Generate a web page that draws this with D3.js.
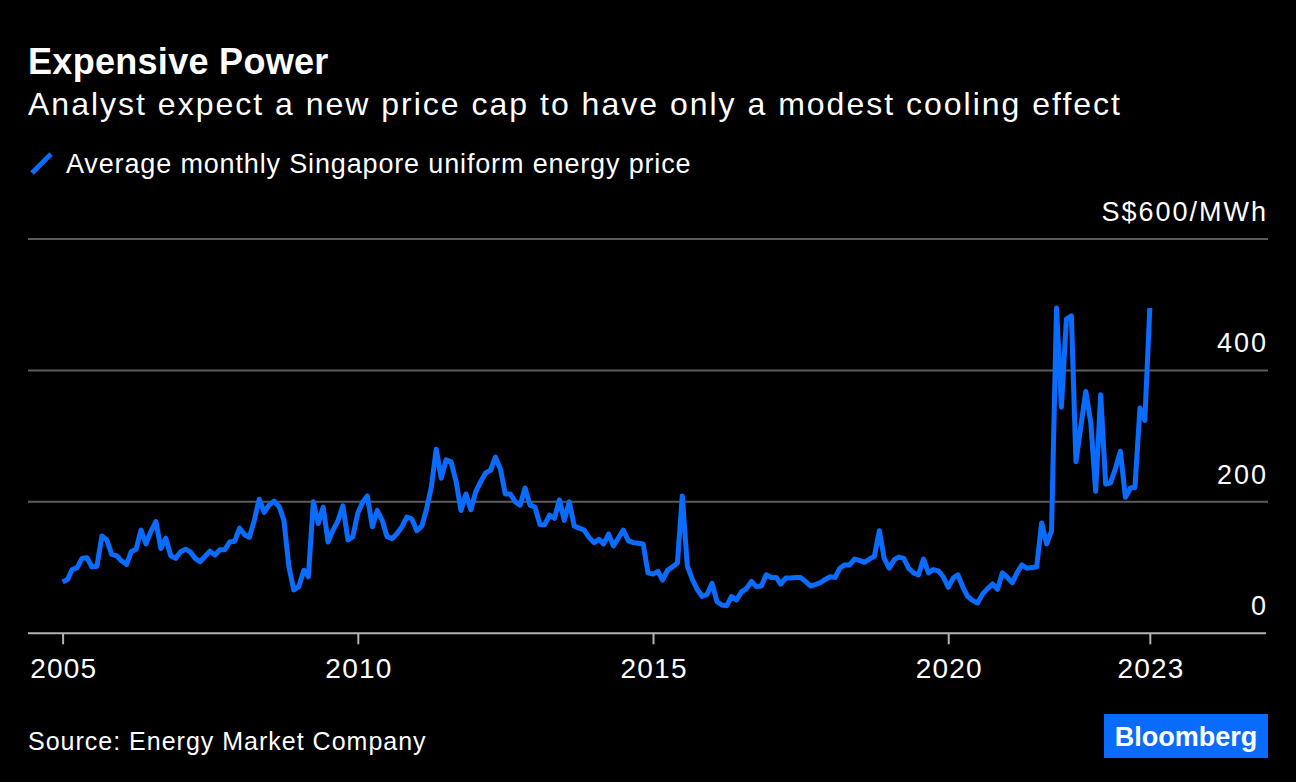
<!DOCTYPE html>
<html>
<head>
<meta charset="utf-8">
<script src="https://cdn.jsdelivr.net/npm/d3@7"></script>
<style>
    body { margin: 0; background: #000; }
    svg { display: block; font-family: "Liberation Sans", Arial, sans-serif; }
</style>
</head>
<body>
<div id="main-chart"></div>
<script>
// Monthly average USEP, S$/MWh, Jan 2005 - Jun 2023
let startYear = 2005;
let prices = [
    78, 82, 97, 100, 114, 115, 101, 102, 148, 142, 120, 118,
    110, 105, 124, 128, 157, 136, 155, 170, 129, 145, 118, 114,
    124, 128, 124, 114, 109, 117, 125, 119, 127, 127, 139, 140,
    160, 150, 146, 172, 204, 184, 195, 201, 193, 172, 101, 66,
    71, 96, 86, 200, 167, 192, 139, 157, 172, 194, 142, 147,
    183, 200, 209, 162, 187, 172, 147, 144, 152, 162, 177, 174,
    156, 163, 188, 223, 280, 236, 264, 261, 231, 187, 212, 188,
    216, 231, 244, 248, 268, 250, 212, 212, 200, 195, 221, 195,
    192, 165, 165, 180, 175, 203, 172, 200, 163, 160, 157, 146,
    138, 143, 136, 151, 133, 145, 157, 141, 138, 137, 136, 92,
    90, 94, 81, 96, 101, 107, 209, 103, 82, 67, 56, 59,
    76, 48, 43, 42, 56, 51, 63, 68, 79, 71, 72, 89,
    85, 85, 75, 84, 84, 85, 85, 79, 72, 74, 77, 82,
    86, 85, 99, 104, 104, 113, 111, 108, 113, 117, 156, 114,
    99, 112, 116, 114, 99, 92, 89, 113, 92, 97, 95, 86,
    70, 84, 89, 70, 56, 50, 46, 60, 68, 75, 67, 92,
    85, 77, 92, 104, 99, 100, 101, 168, 136, 156, 495, 344,
    478, 483, 261, 316, 368, 320, 216, 363, 227, 229, 251, 277,
    207, 221, 222, 343, 324, 495
];
let yTicks = [0, 200, 400, 600];
let xTickYears = [2005, 2010, 2015, 2020];

let data = prices.map(function (p, i) {
    return { date: new Date(startYear, i, 1), price: p };
});

let width = 1296,
    height = 782;

let blue = '#0a6cff';

let x = d3.scaleTime()
    .domain([new Date(2004, 5, 1), new Date(2025, 5, 1)])
    .range([28, 1268]);
let y = d3.scaleLinear()
    .domain([0, 600])
    .range([633.3, 239]);

let svg = d3.select('#main-chart')
    .append('svg')
    .attr('width', width)
    .attr('height', height);

svg.append('rect')
    .attr('width', width)
    .attr('height', height)
    .attr('fill', '#000');

// Titles
svg.append('text')
    .attr('x', 28).attr('y', 74)
    .attr('fill', '#fff')
    .attr('font-size', 36)
    .attr('font-weight', 'bold')
    .attr('letter-spacing', 0.3)
    .text('Expensive Power');

svg.append('text')
    .attr('x', 28).attr('y', 115)
    .attr('fill', '#fff')
    .attr('font-size', 32)
    .attr('letter-spacing', 2)
    .text('Analyst expect a new price cap to have only a modest cooling effect');

// Legend
svg.append('line')
    .attr('x1', 32).attr('y1', 173)
    .attr('x2', 51).attr('y2', 154)
    .attr('stroke', blue)
    .attr('stroke-width', 5);

svg.append('text')
    .attr('x', 66).attr('y', 173)
    .attr('fill', '#fff')
    .attr('font-size', 27)
    .attr('letter-spacing', 0.85)
    .text('Average monthly Singapore uniform energy price');

// Gridlines
svg.append('g')
    .selectAll('line')
    .data(yTicks.filter(function (d) { return d > 0; }))
    .enter().append('line')
    .attr('x1', 28).attr('x2', 1268)
    .attr('y1', function (d) { return y(d); })
    .attr('y2', function (d) { return y(d); })
    .attr('stroke', '#5c5c5c')
    .attr('stroke-width', 2);

// Y labels sit above their gridlines
svg.append('g')
    .selectAll('text')
    .data(yTicks)
    .enter().append('text')
    .attr('x', 1268)
    .attr('y', function (d) { return y(d) - 18; })
    .attr('text-anchor', 'end')
    .attr('fill', '#fff')
    .attr('font-size', 27)
    .attr('letter-spacing', 2)
    .text(function (d) { return d === 600 ? 'S$600/MWh' : d; });

// X axis
let lastDate = data[data.length - 1].date;
let xTicks = xTickYears.map(function (yr) { return new Date(yr, 0, 1); }).concat([lastDate]);

let xAxis = d3.axisBottom(x)
    .tickValues(xTicks)
    .tickSize(11)
    .tickPadding(14)
    .tickFormat(function (d, i) { return i === xTicks.length - 1 ? '2023' : d3.timeFormat('%Y')(d); });

let gx = svg.append('g')
    .attr('transform', 'translate(0,' + y(0) + ')')
    .call(xAxis);

gx.select('.domain')
    .attr('d', 'M28,0H1266')
    .attr('stroke', '#b3b3b3')
    .attr('stroke-width', 2);
gx.selectAll('.tick line')
    .attr('stroke', '#b3b3b3')
    .attr('stroke-width', 2);
gx.selectAll('.tick text')
    .attr('fill', '#fff')
    .attr('font-size', 28)
    .attr('letter-spacing', 1.2)
    .attr('dx', 0.6)
    .attr('font-family', '"Liberation Sans", Arial, sans-serif');

// Price line
let line_price = d3.line()
    .x(function (d) { return x(d.date); })
    .y(function (d) { return y(d.price); });

svg.append('path')
    .datum(data)
    .attr('fill', 'none')
    .attr('stroke', blue)
    .attr('stroke-width', 5)
    .attr('stroke-linejoin', 'round')
    .attr('d', line_price);

// Footer
svg.append('text')
    .attr('x', 28).attr('y', 750)
    .attr('fill', '#fff')
    .attr('font-size', 25)
    .attr('letter-spacing', 1)
    .text('Source: Energy Market Company');

svg.append('rect')
    .attr('x', 1104).attr('y', 714)
    .attr('width', 164).attr('height', 44)
    .attr('fill', blue);

svg.append('text')
    .attr('x', 1186).attr('y', 746)
    .attr('text-anchor', 'middle')
    .attr('fill', '#fff')
    .attr('font-size', 27)
    .attr('font-weight', 'bold')
    .text('Bloomberg');
</script>
</body>
</html>
